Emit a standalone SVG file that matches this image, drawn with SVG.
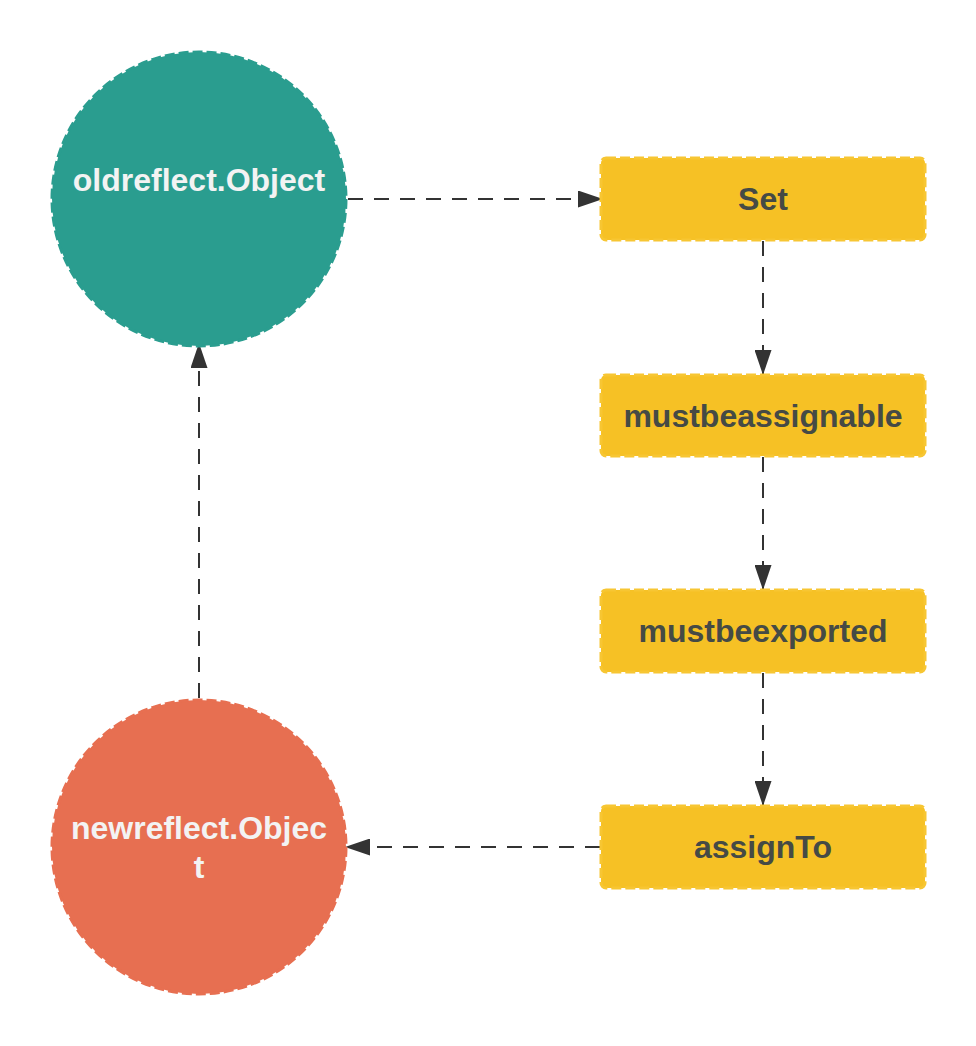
<svg xmlns="http://www.w3.org/2000/svg" width="976" height="1046" viewBox="0 0 976 1046">
<style>
.circ-old{fill:#2a9d8f;stroke:#2a9d8f;stroke-width:3;stroke-dasharray:10 4}
.circ-new{fill:#e76f51;stroke:#e76f51;stroke-width:3;stroke-dasharray:10 4}
.box{fill:#f6c125;stroke:#f7c633;stroke-width:3;stroke-dasharray:10 4}
.ctext{font-family:"Liberation Sans",Arial,sans-serif;font-weight:bold;font-size:32px;fill:#f3f3f3;text-anchor:middle}
.btext{font-family:"Liberation Sans",Arial,sans-serif;font-weight:bold;font-size:32px;fill:#454a45;text-anchor:middle}
.edge{fill:none;stroke:#333333;stroke-width:2;stroke-dasharray:15 11}
</style>
<defs>
<marker id="arrow" viewBox="0 0 25 17" refX="25" refY="8.5" markerWidth="25" markerHeight="17" markerUnits="userSpaceOnUse" orient="auto">
<path d="M0,0 L25,8.5 L0,17 Z" fill="#333333"/>
</marker>
</defs>
<rect width="976" height="1046" fill="#ffffff"/>
<g id="connectors">
<path class="edge" d="M348,199 L603,199" marker-end="url(#arrow)"/>
<path class="edge" d="M763,241 L763,375" marker-end="url(#arrow)"/>
<path class="edge" d="M763,457 L763,590" marker-end="url(#arrow)"/>
<path class="edge" d="M763,673 L763,806" marker-end="url(#arrow)"/>
<path class="edge" d="M600,847 L345,847" marker-end="url(#arrow)"/>
<path class="edge" d="M199,698 L199,343" marker-end="url(#arrow)"/>
</g>
<g id="node-oldreflect">
<circle class="circ-old" cx="199" cy="199" r="147"/>
<text class="ctext" x="199" y="191">oldreflect.Object</text>
</g>
<g id="node-set">
<rect class="box" x="601" y="158" width="324" height="82" rx="5"/>
<text class="btext" x="763" y="210">Set</text>
</g>
<g id="node-mustbeassignable">
<rect class="box" x="601" y="375" width="324" height="81" rx="5"/>
<text class="btext" x="763" y="427">mustbeassignable</text>
</g>
<g id="node-mustbeexported">
<rect class="box" x="601" y="590" width="324" height="82" rx="5"/>
<text class="btext" x="763" y="642">mustbeexported</text>
</g>
<g id="node-assignTo">
<rect class="box" x="601" y="806" width="324" height="82" rx="5"/>
<text class="btext" x="763" y="858">assignTo</text>
</g>
<g id="node-newreflect">
<circle class="circ-new" cx="199" cy="847" r="147"/>
<text class="ctext" x="199" y="839">newreflect.Objec</text>
<text class="ctext" x="199" y="878">t</text>
</g>
</svg>
